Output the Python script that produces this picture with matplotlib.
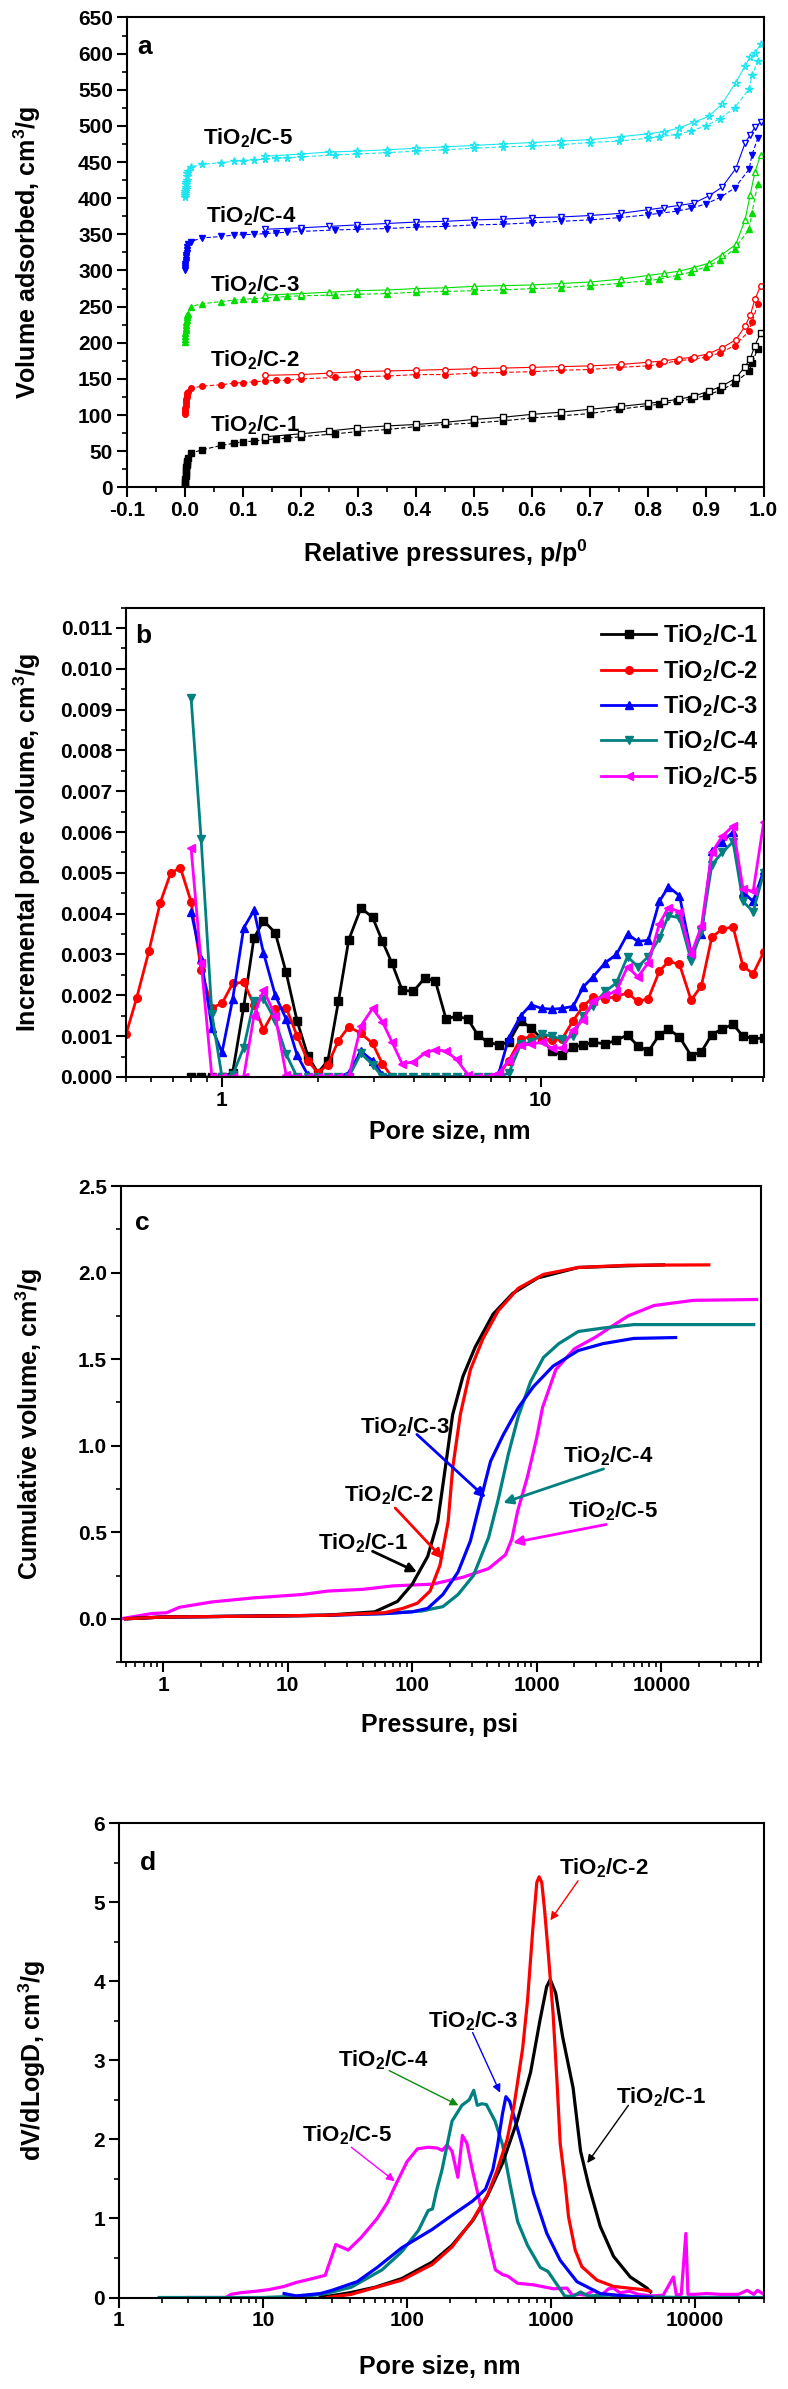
import numpy as np
import matplotlib
matplotlib.use('Agg')
import matplotlib.pyplot as plt
from matplotlib.ticker import MultipleLocator, LogLocator, FuncFormatter, NullFormatter

plt.rcParams['font.family'] = ['Liberation Sans', 'DejaVu Sans']
plt.rcParams['font.weight'] = 'bold'
plt.rcParams['axes.labelweight'] = 'bold'
plt.rcParams['mathtext.fontset'] = 'custom'
plt.rcParams['mathtext.rm'] = 'Liberation Sans:bold'
plt.rcParams['mathtext.bf'] = 'Liberation Sans:bold'
plt.rcParams['mathtext.it'] = 'Liberation Sans:bold'
plt.rcParams['mathtext.default'] = 'rm'
plt.rcParams['axes.linewidth'] = 1.5

names = ['TiO$_2$/C-1', 'TiO$_2$/C-2', 'TiO$_2$/C-3', 'TiO$_2$/C-4', 'TiO$_2$/C-5']

# ---- panel a: N2 isotherms ----
lp_p = [0.0001, 0.0003, 0.0006, 0.001, 0.0015, 0.002, 0.0025, 0.003, 0.0035, 0.004, 0.0045, 0.005]
lp1 = [1, 4, 8, 12, 16, 20, 24, 28, 31, 34, 37, 40]
lp2 = [101, 104, 107, 110, 113, 116, 119, 122, 125, 128, 130, 132]
lp3 = [201, 205, 209, 213, 217, 221, 225, 229, 232, 235, 238, 240]
lp4 = [300, 303, 306, 309, 312, 315, 318, 321, 324, 328, 332, 336]
lp5 = [401, 404, 407, 410, 413, 416, 419, 422, 425, 430, 435, 438]

ads_p = [0.01, 0.03, 0.063, 0.085, 0.1, 0.12, 0.139, 0.158, 0.177, 0.2, 0.26, 0.297, 0.35, 0.4, 0.45,
         0.5, 0.55, 0.6, 0.65, 0.7, 0.75, 0.8, 0.82, 0.85, 0.875, 0.9, 0.925, 0.95, 0.975, 0.98, 0.99]
ads1 = [47, 52, 58, 61, 63, 64, 66, 67, 68, 70, 74, 77, 80, 84, 87, 89, 92, 96, 99, 102, 108, 113, 115,
        119, 122, 127, 134, 144, 161, 172, 192]
ads2 = [137, 140, 142, 144, 145, 146, 147, 148, 148, 150, 152, 153, 154, 156, 156, 158, 159, 160, 162,
        163, 166, 168, 170, 175, 177, 180, 186, 196, 216, 229, 253]
ads3 = [250, 254, 257, 259, 260, 261, 262, 263, 264, 265, 266, 267, 268, 270, 271, 272, 273, 275, 276,
        279, 282, 286, 288, 293, 298, 305, 314, 330, 357, 380, 420]
ads4 = [340, 345, 347, 349, 349.5, 350, 351, 352, 353, 354, 356, 357, 358, 360, 361, 363, 364, 366, 368,
        370, 373, 377, 379, 382, 386, 392, 401, 414, 440, 460, 483]
ads5 = [443, 447, 449, 451, 452, 453, 454, 455, 456, 457, 460, 461, 463, 465, 467, 469, 471, 472, 474,
        477, 479, 483, 485, 488, 493, 500, 510, 525, 551, 570, 590]

des_p = [0.995, 0.985, 0.977, 0.968, 0.952, 0.928, 0.905, 0.879, 0.854, 0.828, 0.8, 0.753, 0.7, 0.65,
         0.6, 0.55, 0.5, 0.45, 0.4, 0.35, 0.297, 0.25, 0.2, 0.139]
des1 = [214, 196, 178, 167, 151, 140, 133, 126, 122, 119, 116, 112, 108, 104, 101, 97, 94, 90, 87, 85,
        82, 78, 74, 70]
des2 = [279, 260, 238, 223, 204, 193, 185, 180, 178, 175, 173, 170, 168, 167, 166, 165, 164, 163, 162,
        161, 160, 158, 156, 155]
des3 = [460, 436, 405, 370, 336, 322, 310, 304, 299, 296, 293, 288, 284, 282, 280, 279, 278, 276, 275,
        273, 272, 270, 268, 266]
des4 = [505, 498, 488, 476, 441, 415, 403, 393, 390, 387, 384, 379, 376, 374, 373, 371, 370, 368, 367,
        365, 363, 361, 359, 357]
des5 = [613, 601, 595, 583, 560, 530, 513, 505, 497, 492, 489, 485, 481, 479, 477, 475, 473, 471, 469,
        467, 465, 464, 461, 458]

# label positions (left, baseline)
lab_a_x = [0.043, 0.043, 0.043, 0.036, 0.032]
lab_a_y = [78, 167, 271, 367, 474]

# ---- panel b: incremental pore volume (x1e-3) ----
size_b = [0.50, 0.54, 0.59, 0.64, 0.69, 0.74, 0.80, 0.86, 0.93, 1.00, 1.08, 1.17, 1.26, 1.35, 1.47, 1.59,
          1.72, 1.86, 2.00, 2.15, 2.32, 2.50, 2.73, 2.97, 3.19, 3.42, 3.68, 3.99, 4.34, 4.68, 5.05, 5.45,
          5.91, 6.35, 6.83, 7.40, 7.95, 8.67, 9.33, 10.07, 10.87, 11.7, 12.66, 13.6, 14.6, 15.97, 17.3,
          18.75, 20.2, 21.8, 23.6, 25.2, 27.3, 29.7, 32.0, 34.5, 37.2, 40.2, 43.2, 46.5, 50.2]
nan6 = [np.nan] * 6
inc1 = nan6 + [0, 0, 0, 0, 0.1, 1.72, 3.4, 3.83, 3.53, 2.56, 1.38, 0.52, 0.1, 0.4, 1.85, 3.36, 4.14, 3.91,
               3.32, 2.78, 2.12, 2.1, 2.43, 2.34, 1.42, 1.49, 1.42, 1.03, 0.85, 0.79, 0.85, 1.38, 1.2, 0.94,
               0.63, 0.54, 0.73, 0.78, 0.85, 0.81, 0.9, 1.03, 0.76, 0.63, 1.03, 1.17, 0.98, 0.52, 0.62,
               1.04, 1.18, 1.29, 1.0, 0.94, 0.95]
inc2 = [1.05, 1.94, 3.09, 4.27, 4.99, 5.13, 4.29, 2.63, 1.70, 1.80, 2.29, 2.32, 1.77, 1.15, 1.67, 1.70,
        1.01, 0.40, 0.10, 0.30, 0.89, 1.23, 1.07, 0.82, 0.32, 0, 0, 0, 0, 0, 0, 0, 0, 0, 0, 0.05, 0.4,
        0.94, 0.98, 0.94, 0.9, 0.94, 1.38, 1.73, 1.95, 1.92, 1.97, 2.06, 1.85, 1.92, 2.59, 2.83, 2.76,
        1.88, 2.24, 3.43, 3.62, 3.68, 2.71, 2.53, 3.06]
inc3 = nan6 + [4.05, 2.9, 1.2, 0.6, 1.9, 3.65, 4.08, 3.04, 2.0, 1.42, 0.54, 0.05, 0, 0, 0, 0.1, 0.63, 0.4,
               0.05, 0, 0, 0, 0, 0, 0, 0, 0, 0, 0, 0.1, 0.96, 1.5, 1.77, 1.68, 1.66, 1.68, 1.73, 2.2, 2.45,
               2.8, 3.0, 3.5, 3.32, 3.35, 4.3, 4.66, 4.44, 3.04, 3.5, 5.54, 5.76, 6.0, 4.53, 4.3, 5.06]
inc4 = nan6 + [9.28, 5.83, 1.54, 0, 0.05, 0.72, 1.85, 1.92, 1.38, 0.56, 0, 0, 0, 0, 0, 0, 0.58, 0.3, 0,
               0, 0, 0, 0, 0, 0, 0, 0, 0, 0, 0, 0.1, 0.8, 0.85, 1.05, 1.0, 0.92, 1.0, 1.5, 1.75, 2.1, 2.3,
               2.95, 2.7, 2.95, 3.4, 3.95, 3.9, 2.85, 3.57, 5.2, 5.5, 5.76, 4.3, 4.05, 5.0]
inc5 = nan6 + [5.6, 2.8, 0, 0, 0, 0, 1.5, 2.13, 1.5, 0.05, 0, 0, 0, 0, 0, 0, 1.25, 1.68, 1.35, 0.85, 0.32,
               0.37, 0.59, 0.67, 0.63, 0.43, 0.06, 0, 0, 0.1, 0.4, 0.78, 0.8, 0.85, 0.7, 0.72, 1.15, 1.4,
               1.85, 2.0, 2.1, 2.7, 2.45, 2.8, 3.75, 4.15, 4.05, 3.0, 3.7, 5.5, 5.9, 6.15, 4.6, 4.55, 6.25]

# ---- panel c: cumulative intrusion ----
c1_p = [0.5, 1, 5, 20, 50, 76, 100, 133, 160, 184, 211, 255, 320, 445, 640, 1020, 2150, 5400, 10400]
c1_v = [0.0, 0.01, 0.015, 0.02, 0.04, 0.10, 0.20, 0.36, 0.56, 0.87, 1.18, 1.40, 1.57, 1.76, 1.88, 1.97,
        2.03, 2.04, 2.045]
c2_p = [0.5, 1, 5, 20, 60, 84, 110, 139, 167, 194, 211, 243, 293, 370, 490, 710, 1130, 2150, 5400, 24000]
c2_v = [0.0, 0.01, 0.015, 0.02, 0.035, 0.06, 0.09, 0.16, 0.31, 0.56, 0.87, 1.18, 1.44, 1.62, 1.78, 1.91,
        1.99, 2.03, 2.043, 2.045]
c3_p = [0.5, 1, 5, 20, 60, 100, 133, 176, 233, 293, 355, 425, 535, 710, 935, 1350, 2150, 3400, 6000, 13000]
c3_v = [0.0, 0.01, 0.015, 0.02, 0.03, 0.04, 0.06, 0.14, 0.27, 0.45, 0.69, 0.91, 1.06, 1.22, 1.34, 1.46,
        1.55, 1.59, 1.62, 1.625]
c4_p = [0.5, 1, 5, 20, 60, 120, 150, 176, 233, 310, 410, 490, 590, 710, 890, 1130, 1500, 2150, 3400, 6000,
        22000, 55000]
c4_v = [0.0, 0.01, 0.015, 0.02, 0.03, 0.045, 0.06, 0.07, 0.14, 0.25, 0.47, 0.69, 0.95, 1.17, 1.37, 1.51,
        1.59, 1.66, 1.68, 1.70, 1.70, 1.70]
c5_p = [0.46, 0.81, 1.07, 1.35, 2.46, 5.2, 13, 21, 40, 70, 146, 255, 410, 560, 630, 700, 840, 1000, 1110,
        1420, 2000, 3000, 4000, 5400, 8700, 18000, 58000]
c5_v = [0.0, 0.03, 0.035, 0.066, 0.097, 0.12, 0.14, 0.16, 0.17, 0.19, 0.20, 0.24, 0.29, 0.37, 0.46, 0.62,
        0.82, 1.05, 1.22, 1.44, 1.56, 1.63, 1.69, 1.75, 1.81, 1.84, 1.845]
lab_c_x = [17.6, 28.3, 38.1, 1636, 1762]
lab_c_y = [0.398, 0.678, 1.069, 0.905, 0.583]
arr_c_from = [(48, 0.39), (73, 0.64), (109, 1.065), (3430, 0.866), (3600, 0.545)]
arr_c_to = [(109, 0.27), (176, 0.347), (388, 0.70), (537, 0.67), (643, 0.44)]

# ---- panel d: pore size distribution ----
d1_x = [25, 40, 60, 92, 150, 205, 285, 360, 460, 585, 720, 835, 930, 985, 1075, 1200, 1420, 1600, 1820,
        2190, 2710, 3540, 4620, 4900]
d1_y = [0.0, 0.06, 0.13, 0.24, 0.45, 0.66, 0.97, 1.28, 1.7, 2.25, 2.85, 3.5, 3.93, 4.02, 3.85, 3.3, 2.65,
        1.85, 1.42, 0.9, 0.52, 0.26, 0.12, 0.07]
d2_x = [28, 41, 92, 150, 205, 285, 362, 420, 495, 555, 634, 685, 745, 795, 825, 860, 900, 950, 1030, 1100,
        1155, 1250, 1320, 1468, 1633, 2076, 2710, 4300, 4880]
d2_y = [0.0, 0.04, 0.22, 0.42, 0.64, 0.98, 1.3, 1.6, 2.0, 2.45, 3.15, 3.75, 4.65, 5.25, 5.32, 5.25, 4.9,
        4.4, 3.6, 2.7, 1.95, 1.44, 1.02, 0.6, 0.39, 0.22, 0.14, 0.1, 0.08]
d3_x = [14, 17, 25, 30, 45, 62, 92, 149, 205, 285, 350, 394, 425, 460, 485, 515, 585, 643, 754, 933, 1155,
        1510, 2190, 3700, 5000]
d3_y = [0.05, 0.02, 0.05, 0.09, 0.2, 0.38, 0.63, 0.86, 1.04, 1.22, 1.37, 1.62, 1.93, 2.33, 2.54, 2.48,
        2.13, 1.86, 1.32, 0.81, 0.47, 0.2, 0.05, 0.01, 0.0]
d4_x = [1.9, 10, 20, 26, 41, 67, 92, 120, 140, 150, 160, 175, 205, 240, 270, 290, 307, 330, 355, 408, 460,
        520, 585, 685, 840, 950, 1110, 1240, 1400, 1600, 1800, 2500, 4000, 8000, 30000]
d4_y = [0.0, 0.0, 0.02, 0.04, 0.13, 0.35, 0.58, 0.85, 1.1, 1.12, 1.35, 1.62, 2.23, 2.43, 2.5, 2.62, 2.43,
        2.45, 2.44, 2.23, 1.93, 1.42, 0.96, 0.66, 0.38, 0.33, 0.15, 0.02, 0.01, 0.07, 0.02, 0.03, 0.01,
        0.0, 0.0]
d5_x = [3, 5.5, 6, 7, 9, 11, 14, 17, 21, 27, 32, 39, 48, 62, 73, 82, 100, 118, 140, 162, 175, 190, 205,
        225, 242, 260, 285, 333, 380, 410, 460, 500, 585, 754, 1040, 1285, 1400, 1600, 1700, 2000, 2200,
        2500, 2700, 3000, 3500, 4000, 5000, 6000, 7060, 7400, 8000, 8610, 8900, 10000, 12000, 15000,
        20000, 22900, 25500, 27000, 30000]
d5_y = [0.0, 0.0, 0.04, 0.06, 0.08, 0.1, 0.14, 0.19, 0.23, 0.28, 0.67, 0.6, 0.76, 1.0, 1.2, 1.4, 1.72,
        1.88, 1.9, 1.89, 1.86, 1.93, 1.85, 1.52, 2.05, 1.95, 1.6, 1.06, 0.6, 0.35, 0.29, 0.27, 0.18, 0.16,
        0.11, 0.12, 0.03, 0.04, 0.03, 0.09, 0.02, 0.11, 0.12, 0.06, 0.08, 0.04, 0.02, 0.03, 0.26, 0.03,
        0.04, 0.81, 0.04, 0.04, 0.05, 0.04, 0.04, 0.09, 0.04, 0.09, 0.04]
lab_d_x = [2807, 1132, 140, 33, 18.5]
lab_d_y = [2.46, 5.35, 3.41, 2.92, 1.97]
arr_d_from = [(3435, 2.43), (1537, 5.27), (285, 3.35), (75, 2.87), (41, 1.90)]
arr_d_to = [(1780, 1.70), (988, 4.77), (442, 2.59), (227, 2.43), (82, 1.47)]


def style(ax):
    ax.tick_params(which='major', direction='out', length=7, width=1.5, labelsize=15, pad=3,
                   top=False, right=False)
    ax.tick_params(which='minor', direction='out', length=3.5, width=1.2, top=False, right=False)


def logx(ax):
    ax.set_xscale('log')
    ax.xaxis.set_major_locator(LogLocator(base=10))
    ax.xaxis.set_minor_locator(LogLocator(base=10, subs=np.arange(2, 10)))
    ax.xaxis.set_major_formatter(FuncFormatter(lambda v, p: '%g' % v))
    ax.xaxis.set_minor_formatter(NullFormatter())


fig = plt.figure(figsize=(7.88, 23.89), dpi=100)
axes = []

# ---------------- a ----------------
ax = fig.add_axes([0.161, 0.796, 0.808, 0.1967])
axes.append(ax)
cols_a = ['#000000', '#FF0000', '#00DD00', '#0000FF', '#1EE6F0']
marks_a = ['s', 'o', '^', 'v', '*']
lps = [lp1, lp2, lp3, lp4, lp5]
adss = [ads1, ads2, ads3, ads4, ads5]
dess = [des1, des2, des3, des4, des5]
for i in range(5):
    ms = 5.5 if marks_a[i] == '*' else 4
    ax.plot(lp_p + ads_p, lps[i] + adss[i], color=cols_a[i], marker=marks_a[i], ms=ms, lw=0.8,
            ls=(0, (4, 2)))
    ax.plot(des_p, dess[i], color=cols_a[i], marker=marks_a[i], ms=ms, lw=0.8, mfc='white')
    ax.text(lab_a_x[i], lab_a_y[i], names[i], fontsize=16, ha='left', va='baseline')
ax.set_xlim(-0.1, 1.0)
ax.set_ylim(0, 650)
ax.xaxis.set_major_locator(MultipleLocator(0.1))
ax.xaxis.set_minor_locator(MultipleLocator(0.05))
ax.yaxis.set_major_locator(MultipleLocator(50))
ax.yaxis.set_minor_locator(MultipleLocator(25))
ax.xaxis.set_major_formatter(FuncFormatter(lambda v, p: '%.1f' % (round(v, 2) + 0.0)))
style(ax)
ax.set_xlabel('Relative pressures, p/p$^0$', fontsize=18)
ax.set_ylabel('Volume adsorbed, cm$^3$/g', fontsize=18)
ax.xaxis.set_label_coords(0.5, -0.106)
ax.yaxis.set_label_coords(-0.132, 0.5)
ax.text(0.017, 0.923, 'a', transform=ax.transAxes, fontsize=19)

# ---------------- b ----------------
ax = fig.add_axes([0.160, 0.5492, 0.8096, 0.1965])
axes.append(ax)
cols = ['#000000', '#FF0000', '#0000FF', '#008080', '#FF00FF']
marks_b = ['s', 'o', '^', 'v', '<']
incs = [inc1, inc2, inc3, inc4, inc5]
for i in range(5):
    ax.plot(size_b, np.array(incs[i]) * 1e-3, color=cols[i], marker=marks_b[i], ms=5.5, lw=2,
            label=names[i])
logx(ax)
ax.set_xlim(0.5, 50.3)
ax.set_ylim(0, 0.0115)
ax.yaxis.set_major_locator(MultipleLocator(0.001))
ax.yaxis.set_minor_locator(MultipleLocator(0.0005))
ax.yaxis.set_major_formatter(FuncFormatter(lambda v, p: '%.3f' % v))
style(ax)
ax.set_xlabel('Pore size, nm', fontsize=18)
ax.set_ylabel('Incremental pore volume, cm$^3$/g', fontsize=18)
ax.xaxis.set_label_coords(0.508, -0.092)
ax.yaxis.set_label_coords(-0.130, 0.5)
ax.text(0.014, 0.924, 'b', transform=ax.transAxes, fontsize=19)
ax.legend(loc='upper left', bbox_to_anchor=(0.745, 0.968), frameon=False, fontsize=17,
          handlelength=2.3, handletextpad=0.3, labelspacing=0.4, borderpad=0, borderaxespad=0)

# ---------------- c ----------------
ax = fig.add_axes([0.1536, 0.3043, 0.8122, 0.1992])
axes.append(ax)
cps = [c1_p, c2_p, c3_p, c4_p, c5_p]
cvs = [c1_v, c2_v, c3_v, c4_v, c5_v]
for i in [4, 3, 2, 0, 1]:
    ax.plot(cps[i], cvs[i], color=cols[i], lw=2.3)
for i in range(5):
    ax.text(lab_c_x[i], lab_c_y[i], names[i], fontsize=16, ha='left', va='baseline')
    ax.annotate('', xy=arr_c_to[i], xytext=arr_c_from[i],
                arrowprops=dict(arrowstyle='-|>', color=cols[i], lw=2, mutation_scale=14,
                                shrinkA=0, shrinkB=0))
logx(ax)
ax.set_xlim(0.46, 63000)
ax.set_ylim(-0.25, 2.5)
ax.yaxis.set_major_locator(MultipleLocator(0.5))
ax.yaxis.set_minor_locator(MultipleLocator(0.25))
ax.yaxis.set_major_formatter(FuncFormatter(lambda v, p: '%.1f' % (round(v, 2) + 0.0)))
style(ax)
ax.set_xlabel('Pressure, psi', fontsize=18)
ax.set_ylabel('Cumulative volume, cm$^3$/g', fontsize=18)
ax.xaxis.set_label_coords(0.498, -0.107)
ax.yaxis.set_label_coords(-0.119, 0.5)
ax.text(0.022, 0.908, 'c', transform=ax.transAxes, fontsize=19)

# ---------------- d ----------------
ax = fig.add_axes([0.151, 0.0383, 0.8185, 0.1986])
axes.append(ax)
dxs = [d1_x, d2_x, d3_x, d4_x, d5_x]
dys = [d1_y, d2_y, d3_y, d4_y, d5_y]
for i in [4, 3, 2, 0, 1]:
    ax.plot(dxs[i], dys[i], color=cols[i], lw=2.3)
arr_cols_d = ['#000000', '#FF0000', '#0000FF', '#118811', '#FF00FF']
for i in range(5):
    ax.text(lab_d_x[i], lab_d_y[i], names[i], fontsize=16, ha='left', va='baseline')
    ax.annotate('', xy=arr_d_to[i], xytext=arr_d_from[i],
                arrowprops=dict(arrowstyle='-|>', color=arr_cols_d[i], lw=1, mutation_scale=12,
                                shrinkA=0, shrinkB=0))
logx(ax)
ax.set_xlim(1, 30000)
ax.set_ylim(0, 6)
ax.yaxis.set_major_locator(MultipleLocator(1))
ax.yaxis.set_minor_locator(MultipleLocator(0.5))
ax.yaxis.set_major_formatter(FuncFormatter(lambda v, p: '%d' % round(v)))
style(ax)
ax.set_xlabel('Pore size, nm', fontsize=18)
ax.set_ylabel('dV/dLogD, cm$^3$/g', fontsize=18)
ax.xaxis.set_label_coords(0.497, -0.121)
ax.yaxis.set_label_coords(-0.110, 0.5)
ax.text(0.033, 0.901, 'd', transform=ax.transAxes, fontsize=19)

# make the tick labels bold once the ticks exist
fig.canvas.draw()
for ax in axes:
    for t in ax.get_xticklabels(which='both') + ax.get_yticklabels(which='both'):
        t.set_fontweight('bold')

fig.savefig('out.png', dpi=100)
